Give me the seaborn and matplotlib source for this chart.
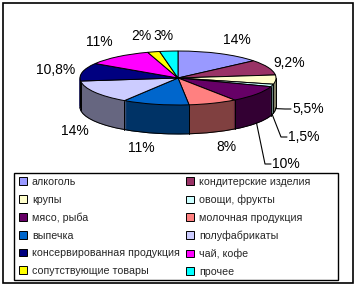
import numpy as np
import matplotlib
matplotlib.use("Agg")
import matplotlib.pyplot as plt
import seaborn as sns
from matplotlib.transforms import Affine2D
from matplotlib.patches import Rectangle, Arc

# ---------------- data ----------------
categories = ["алкоголь", "кондитерские изделия", "крупы", "овощи, фрукты",
              "мясо, рыба", "молочная продукция", "выпечка", "полуфабрикаты",
              "консервированная продукция", "чай, кофе", "сопутствующие товары",
              "прочее"]
values = [14, 9.2, 5.5, 1.5, 10, 8, 11, 14, 10.8, 11, 2, 3]
value_labels = ["14%", "9,2%", "5,5%", "1,5%", "10%", "8%", "11%", "14%",
                "10,8%", "11%", "2%", "3%"]
colors_hex = ["#9999FF", "#993366", "#FFFFCC", "#CCFFFF", "#660066", "#FF8080",
              "#0066CC", "#CCCCFF", "#000080", "#FF00FF", "#FFFF00", "#00FFFF"]

# ---------------- layout / style ----------------
W, H = 359, 289
CX, CY_IMG = 178, 78          # centre of top ellipse (pixels, y down)
RX, RY = 98, 27               # ellipse radii (pixels)
DEPTH = 29                    # thickness of the pie (pixels)
# label centres in pixel coords (y down)
LABEL_XY = [(237, 40), (289, 63), None, None, None, (226, 147), (141, 148),
            (75, 131), (56, 70.5), (99.5, 41.5), (141, 36), (163, 36)]
# leader-line labels: index -> text left edge, text centre y
LEADER_TXT = {2: (292, 109), 3: (288, 137), 4: (272, 164)}

sns.set_style("white")
plt.rcParams["font.family"] = ["Liberation Sans", "DejaVu Sans"]

fig = plt.figure(figsize=(W / 100, H / 100), dpi=100)
ax = fig.add_axes([0, 0, 1, 1])
ax.set_axis_off()
ax.set_xlim(0, W)
ax.set_ylim(0, H)

CY = H - CY_IMG
top_cols = sns.color_palette(colors_hex)
side_cols = [tuple(0.5 * c for c in col) for col in top_cols]


def place(wedges, dy, z):
    T = Affine2D().scale(RX, RY).translate(CX, CY - dy) + ax.transData
    for w in wedges:
        w.set_transform(T)
        w.set_zorder(z)


# side walls: stacked darker layers
for d in range(DEPTH, 0, -1):
    ws, _ = ax.pie(values, colors=side_cols, startangle=90, counterclock=False,
                   wedgeprops=dict(linewidth=0.6))
    for w, c in zip(ws, side_cols):
        w.set_edgecolor(c)
    place(ws, d, 1)

# top face
top_wedges, _ = ax.pie(values, colors=top_cols, startangle=90, counterclock=False,
                       wedgeprops=dict(edgecolor="black", linewidth=0.7))
place(top_wedges, 0, 3)

ax.set_aspect("auto")
ax.set_xlim(0, W)
ax.set_ylim(0, H)

# bottom rim and vertical edges
ax.add_patch(Arc((CX, CY - DEPTH), 2 * RX, 2 * RY, theta1=180, theta2=360,
                 color="black", lw=0.7, zorder=2))
for sx in (CX - RX, CX + RX):
    ax.plot([sx, sx], [CY, CY - DEPTH], color="black", lw=0.7, zorder=2)
for w in top_wedges:
    a = np.deg2rad(w.theta1)
    if np.sin(a) < -0.02:
        x = CX + RX * np.cos(a)
        y = CY + RY * np.sin(a)
        ax.plot([x, x], [y, y - DEPTH], color="black", lw=0.7, zorder=2)

# value labels
for i, w in enumerate(top_wedges):
    if i in LEADER_TXT:
        mid = np.deg2rad(0.5 * (w.theta1 + w.theta2))
        sx = CX + RX * np.cos(mid)
        sy = CY + RY * np.sin(mid) - DEPTH
        tx, ty = LEADER_TXT[i]
        ty = H - ty
        kx = tx - 7
        ax.plot([sx, kx, tx - 1], [sy, ty, ty], color="black", lw=0.8, zorder=4)
        ax.text(tx, ty, value_labels[i], ha="left", va="center", fontsize=10,
                color="black", zorder=5)
    else:
        lx, ly = LABEL_XY[i]
        ax.text(lx, H - ly, value_labels[i], ha="center", va="center",
                fontsize=10, color="black", zorder=5)

# legend
order = list(range(0, len(categories), 2)) + list(range(1, len(categories), 2))
fig.legend([top_wedges[i] for i in order], [categories[i] for i in order],
           loc="upper left", bbox_to_anchor=(19 / W, 1 - 177 / H), ncol=2,
           frameon=False, fontsize=7.7, handlelength=0.75, handleheight=0.75,
           handletextpad=0.45, labelspacing=0.72, columnspacing=0.6,
           borderpad=0, borderaxespad=0)

# legend frame and outer frame
fig.patches.append(Rectangle((14 / W, 1 - 280 / H), (338 - 14) / W, (280 - 173) / H,
                             transform=fig.transFigure, fill=False,
                             edgecolor="black", lw=1.0))
fig.patches.append(Rectangle((3 / W, 1 - 283 / H), (353 - 3) / W, (283 - 3) / H,
                             transform=fig.transFigure, fill=False,
                             edgecolor="black", lw=1.2))

fig.savefig("out.png", dpi=100, facecolor="white")
